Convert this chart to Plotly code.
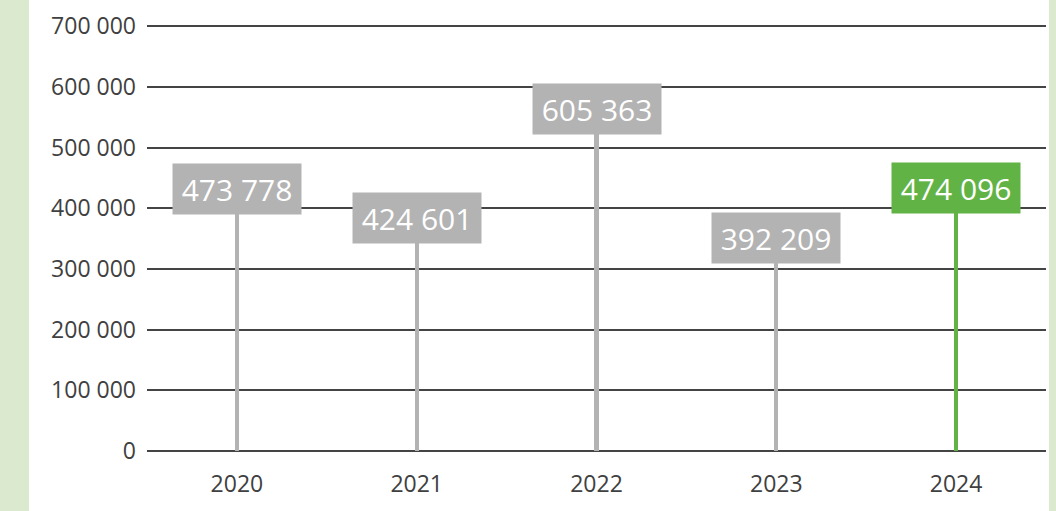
import plotly.graph_objects as go

years = ["2020", "2021", "2022", "2023", "2024"]
values = [473778, 424601, 605363, 392209, 474096]
labels = ["473 778", "424 601", "605 363", "392 209", "474 096"]
colors = ["#b3b3b3", "#b3b3b3", "#b3b3b3", "#b3b3b3", "#62b346"]
weights = [400, 400, 400, 400, 500]
y_ticks = [0, 100000, 200000, 300000, 400000, 500000, 600000, 700000]
y_ticktext = ["0", "100 000", "200 000", "300 000", "400 000", "500 000", "600 000", "700 000"]

fig = go.Figure()
fig.add_trace(go.Bar(x=years, y=values, marker=dict(color=colors, line=dict(width=0)),
                     width=0.024, hoverinfo="skip"))

for i, (v, lab, c, w) in enumerate(zip(values, labels, colors, weights)):
    fig.add_annotation(x=i, y=v, xref="x", yref="y", text=lab, showarrow=False,
                       yanchor="top", xanchor="center", bgcolor=c, yshift=1,
                       font=dict(family="Open Sans", size=30, color="white", weight=w),
                       width=112, height=34, borderpad=8)

W, H = 1056, 511
L, R, T, B = 147, 10, 24, 60
pw = W - L - R
ph = H - T - B
def px(x):
    return (x - L) / pw
def py(y):
    return (H - B - y) / ph

green = "#dbe9cf"
fig.add_shape(type="rect", xref="paper", yref="paper", x0=px(0), x1=px(29), y0=py(H), y1=py(0),
              fillcolor=green, line=dict(width=0), layer="below")
fig.add_shape(type="rect", xref="paper", yref="paper", x0=px(1049), x1=px(W), y0=py(H), y1=py(0),
              fillcolor=green, line=dict(width=0), layer="below")

fig.update_layout(
    width=W, height=H,
    margin=dict(l=L, r=R, t=T, b=B),
    paper_bgcolor="white", plot_bgcolor="white",
    showlegend=False,
    bargap=0,
    font=dict(family="Open Sans", size=23, color="#404040"),
)
fig.update_xaxes(type="category", categoryorder="array", categoryarray=years,
                 range=[-0.5, 4.5], autorange=False,
                 showgrid=False, showline=False, ticks="",
                 ticklabelstandoff=17, tickfont=dict(size=23, color="#404040"))
fig.update_yaxes(range=[0, 704000], autorange=False, tickvals=y_ticks, ticktext=y_ticktext,
                 showgrid=True, gridcolor="#444444", gridwidth=1.5,
                 zeroline=True, zerolinecolor="#444444", zerolinewidth=1.5,
                 showline=False, ticks="", ticklabelstandoff=10,
                 tickfont=dict(size=23, color="#404040"))

fig.write_html("out.html", config={"displayModeBar": False},
               post_script="document.body.style.margin='0';")
